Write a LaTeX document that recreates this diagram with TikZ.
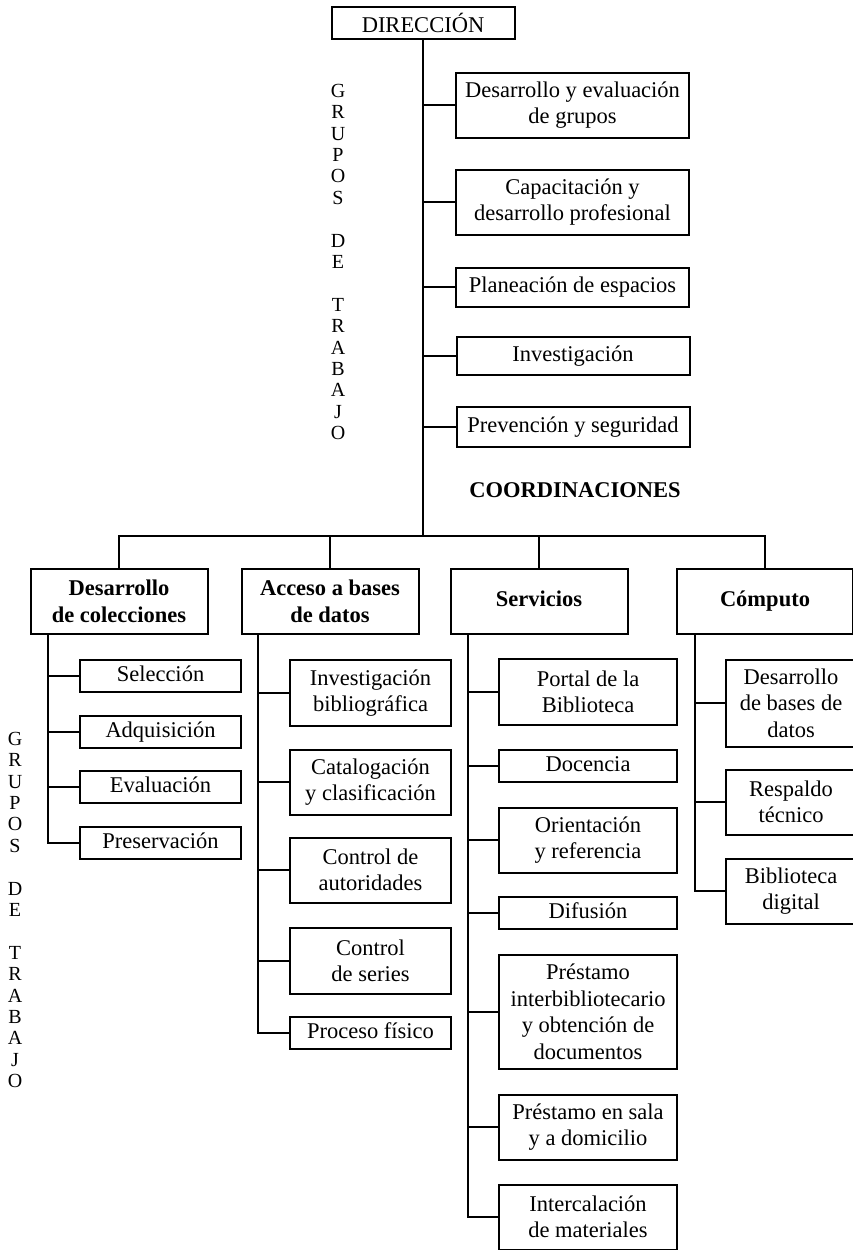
\documentclass[tikz,border=0pt]{standalone}
\usepackage{fontspec}
\setmainfont{Liberation Serif}
\begin{document}
\begin{tikzpicture}[x=1pt,y=-1pt,
  every node/.style={inner sep=0pt, outer sep=0pt},
  box/.style={draw, line width=2pt, rectangle, align=center,
    font=\fontsize{22.5}{26.5}\selectfont},
  cbox/.style={box, font=\fontsize{22.5}{26.5}\selectfont\bfseries},
  link/.style={line width=2pt},
  vtext/.style={align=center, font=\fontsize{20}{21.4}\selectfont}]
\useasboundingbox (0,0) rectangle (853,1250);
\clip (0,0) rectangle (853,1250);

% Direction
\node[box, minimum width=183, minimum height=32] (dir) at (423,23) {DIRECCIÓN};

% Working groups (top)
\node[box, minimum width=233, minimum height=65] (g1) at (572.5,105) {Desarrollo y evaluación\\de grupos};
\node[box, minimum width=233, minimum height=65] (g2) at (572.5,202) {Capacitación y\\desarrollo profesional};
\node[box, minimum width=233, minimum height=39] (g3) at (572.5,287) {\strut Planeación de espacios};
\node[box, minimum width=233, minimum height=38] (g4) at (573,356) {\strut Investigación};
\node[box, minimum width=233, minimum height=40] (g5) at (573,427) {\strut Prevención y seguridad};

\node[vtext] (gt1) at (338,262) {G\\R\\U\\P\\O\\S\\[21.4pt]D\\E\\[21.4pt]T\\R\\A\\B\\A\\J\\O};

\node[font=\fontsize{22.5}{26.5}\selectfont\bfseries] (coord) at (575,490) {COORDINACIONES};

\coordinate (hub) at (423,536);

% Coordinations
\node[cbox, minimum width=177, minimum height=65] (c1) at (119,601.5) {Desarrollo\\de colecciones};
\node[cbox, minimum width=177, minimum height=65] (c2) at (330,601.5) {Acceso a bases\\de datos};
\node[cbox, minimum width=177, minimum height=65] (c3) at (539,601.5) {\strut Servicios};
\node[cbox, minimum width=176, minimum height=65] (c4) at (765,601.5) {\strut Cómputo};

% Desarrollo de colecciones
\node[box, minimum width=161, minimum height=32] (s1) at (160.5,676) {\strut Selección};
\node[box, minimum width=161, minimum height=32] (s2) at (160.5,732) {\strut Adquisición};
\node[box, minimum width=161, minimum height=32] (s3) at (160.5,787) {\strut Evaluación};
\node[box, minimum width=161, minimum height=32] (s4) at (160.5,843) {\strut Preservación};

% Acceso a bases de datos
\node[box, minimum width=161, minimum height=66] (a1) at (370.5,693) {Investigación\\bibliográfica};
\node[box, minimum width=161, minimum height=65] (a2) at (370.5,782) {Catalogación\\y clasificación};
\node[box, minimum width=161, minimum height=65] (a3) at (370.5,870) {Control de\\autoridades};
\node[box, minimum width=161, minimum height=66] (a4) at (370.5,961) {Control\\de series};
\node[box, minimum width=161, minimum height=32] (a5) at (370.5,1033) {\strut Proceso físico};

% Servicios
\node[box, minimum width=178, minimum height=66] (v1) at (588,692) {Portal de la\\Biblioteca};
\node[box, minimum width=178, minimum height=32] (v2) at (588,766) {\strut Docencia};
\node[box, minimum width=178, minimum height=65] (v3) at (588,840) {Orientación\\y referencia};
\node[box, minimum width=178, minimum height=32] (v4) at (588,913) {\strut Difusión};
\node[box, minimum width=178, minimum height=114] (v5) at (588,1012) {Préstamo\\interbibliotecario\\y obtención de\\documentos};
\node[box, minimum width=178, minimum height=65] (v6) at (588,1127) {Préstamo en sala\\y a domicilio};
\node[box, minimum width=178, minimum height=65] (v7) at (588,1217) {Intercalación\\de materiales};

% Cómputo
\node[box, minimum width=130, minimum height=87] (p1) at (791,703) {Desarrollo\\de bases de\\datos};
\node[box, minimum width=130, minimum height=65] (p2) at (791,802) {Respaldo\\técnico};
\node[box, minimum width=130, minimum height=65] (p3) at (791,891) {Biblioteca\\digital};

\node[vtext] (gt2) at (15,910) {G\\R\\U\\P\\O\\S\\[21.4pt]D\\E\\[21.4pt]T\\R\\A\\B\\A\\J\\O};

% Connectors: direction trunk
\draw[link] (dir.south) -- (hub);
\foreach \g in {g1,g2,g3,g4,g5}
  \draw[link] (\g.west) -- (\g.west -| dir.south);

% Horizontal bar to coordinations
\draw[link] (c1.north) |- (hub) -| (c4.north);
\draw[link] (c2.north) -- (c2.north |- hub);
\draw[link] (c3.north) -- (c3.north |- hub);

% Sub-trees
\coordinate (c1s) at (48,634);
\coordinate (c2s) at (258,634);
\coordinate (c3s) at (468,634);
\coordinate (c4s) at (695,634);

\draw[link] (c1s) |- (s4.west);
\foreach \n in {s1,s2,s3} \draw[link] (\n.west) -- (\n.west -| c1s);

\draw[link] (c2s) |- (a5.west);
\foreach \n in {a1,a2,a3,a4} \draw[link] (\n.west) -- (\n.west -| c2s);

\draw[link] (c3s) |- (v7.west);
\foreach \n in {v1,v2,v3,v4,v5,v6} \draw[link] (\n.west) -- (\n.west -| c3s);

\draw[link] (c4s) |- (p3.west);
\foreach \n in {p1,p2} \draw[link] (\n.west) -- (\n.west -| c4s);
\end{tikzpicture}
\end{document}
